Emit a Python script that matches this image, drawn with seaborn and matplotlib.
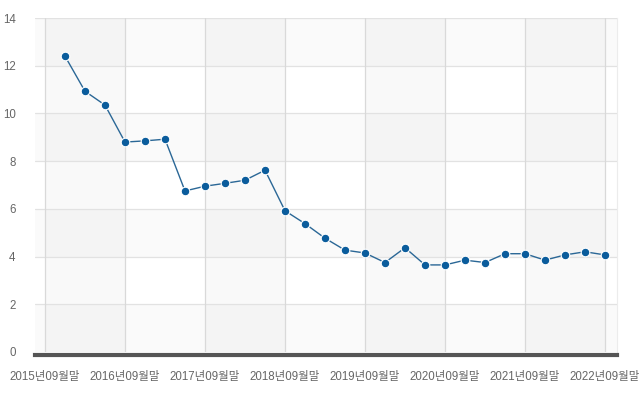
import numpy as np
import pandas as pd
import matplotlib
matplotlib.use("Agg")
import matplotlib.pyplot as plt
import seaborn as sns

quarters = [
    "2015년12월말", "2016년03월말", "2016년06월말", "2016년09월말",
    "2016년12월말", "2017년03월말", "2017년06월말", "2017년09월말",
    "2017년12월말", "2018년03월말", "2018년06월말", "2018년09월말",
    "2018년12월말", "2019년03월말", "2019년06월말", "2019년09월말",
    "2019년12월말", "2020년03월말", "2020년06월말", "2020년09월말",
    "2020년12월말", "2021년03월말", "2021년06월말", "2021년09월말",
    "2021년12월말", "2022년03월말", "2022년06월말", "2022년09월말",
]
values = [
    12.4, 10.93, 10.35, 8.8, 8.85, 8.92, 6.75, 6.95,
    7.07, 7.2, 7.62, 5.92, 5.38, 4.77, 4.27, 4.15,
    3.75, 4.37, 3.65, 3.65, 3.85, 3.75, 4.12, 4.12,
    3.85, 4.07, 4.2, 4.07,
]
tick_labels = ["2015년09월말", "2016년09월말", "2017년09월말", "2018년09월말",
               "2019년09월말", "2020년09월말", "2021년09월말", "2022년09월말"]
y_ticks = [0, 2, 4, 6, 8, 10, 12, 14]

sns.set_style("white")
plt.rcParams["font.family"] = ["Liberation Sans", "Noto Sans CJK KR", "DejaVu Sans"]

df = pd.DataFrame({"quarter": quarters, "value": values})
df["pos"] = np.arange(1, len(df) + 1)
tick_pos = [0] + [q for q, lab in zip(df["pos"], quarters) if lab in tick_labels]

fig = plt.figure(figsize=(6.43, 3.96), dpi=100)
ax = fig.add_axes([35 / 643, 44 / 396, 582 / 643, 334 / 396])
ax.set_facecolor("white")

ax.set_xlim(-0.5, 28.6)
ax.set_ylim(0, 14)

# alternating bands
for i in range(0, len(y_ticks) - 1):
    if i % 2 == 0:
        ax.axhspan(y_ticks[i], y_ticks[i + 1], color="black", alpha=0.02, lw=0, zorder=0)
for j in range(0, len(tick_pos) - 1):
    if j % 2 == 0:
        ax.axvspan(tick_pos[j], tick_pos[j + 1], color="black", alpha=0.025, lw=0, zorder=0)

for y in y_ticks[1:]:
    ax.axhline(y, color="#e2e2e2", lw=0.9, zorder=1)
for x in tick_pos:
    ax.axvline(x, color="#d9d9d9", lw=0.9, zorder=1)

sns.lineplot(data=df, x="pos", y="value", ax=ax, color="#2a6796", lw=1.0,
             marker="o", markersize=6.2, markerfacecolor="#0a5c9c",
             markeredgecolor="white", markeredgewidth=0.8, zorder=3)

ax.set_xticks(tick_pos)
ax.set_xticklabels(tick_labels)
ax.set_yticks(y_ticks)
ax.set_yticklabels([str(v) for v in y_ticks])
ax.tick_params(axis="x", length=0, pad=12, labelsize=8.3, labelcolor="#666666")
ax.tick_params(axis="y", length=0, pad=14, labelsize=8.3, labelcolor="#666666")
ax.set_xlabel("")
ax.set_ylabel("")

for s in ["left", "top"]:
    ax.spines[s].set_visible(False)
ax.spines["right"].set_color("#ececec")
ax.spines["right"].set_linewidth(0.8)
ax.spines["bottom"].set_color("#555555")
ax.spines["bottom"].set_linewidth(3.0)
ax.spines["bottom"].set_position(("outward", 2))

fig.savefig("out.png", dpi=100)
